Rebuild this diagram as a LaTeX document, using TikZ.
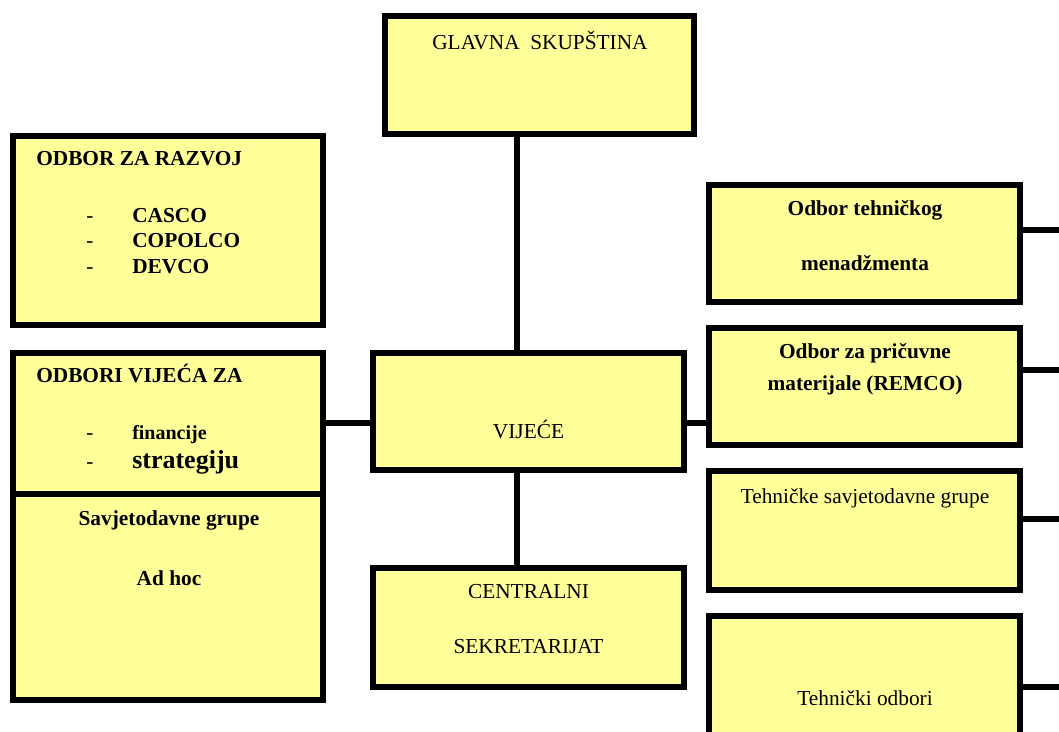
\documentclass[tikz,border=0pt]{standalone}
\usepackage{fontspec}
\setmainfont{Liberation Serif}
\begin{document}
\begin{tikzpicture}[x=0.75pt,y=-0.75pt,
  orgbox/.style={draw=black,line width=4.5pt,fill=boxyellow,rectangle,inner sep=0pt},
  link/.style={line width=4.5pt},
  lbl/.style={anchor=base,inner sep=0pt,font=\fontsize{16}{19}\selectfont},
  blbl/.style={lbl,font=\fontsize{16}{19}\selectfont\bfseries}]
\definecolor{boxyellow}{HTML}{FFFF99}
\useasboundingbox (0,0) rectangle (1059,731);
\clip (0,0) rectangle (1059,731);

% boxes (sizes in px of the stroke centre line, 1px = 0.75pt)
\node[orgbox,minimum width=309*0.75,minimum height=118*0.75] (gs) at (539.5,75) {};
\node[orgbox,minimum width=310*0.75,minimum height=189*0.75] (razvoj) at (168,230.5) {};
\node[orgbox,minimum width=310*0.75,minimum height=141*0.75] (odbori) at (168,423.5) {};
\node[orgbox,minimum width=310*0.75,minimum height=206*0.75] (savjet) at (168,597) {};
\node[orgbox,minimum width=311*0.75,minimum height=117*0.75] (vijece) at (528.5,411.5) {};
\node[orgbox,minimum width=311*0.75,minimum height=119*0.75] (centr) at (528.5,627.5) {};
\node[orgbox,minimum width=311*0.75,minimum height=117*0.75] (tmb) at (864.5,243.5) {};
\node[orgbox,minimum width=311*0.75,minimum height=117*0.75] (remco) at (864.5,386.5) {};
\node[orgbox,minimum width=311*0.75,minimum height=119*0.75] (tag) at (864.5,530.5) {};
\node[orgbox,minimum width=311*0.75,minimum height=150*0.75] (tc) at (864.5,691) {};

% trunk line and free ends at the right margin
\coordinate (trunk) at (517,0);
\coordinate (mid) at (0,423);
\coordinate (e1) at (1065,230);
\coordinate (e2) at (1065,370);
\coordinate (e3) at (1065,519);
\coordinate (e4) at (1065,687);

% connectors
\draw[link] (trunk |- gs.south) -- (trunk |- vijece.north);
\draw[link] (trunk |- vijece.south) -- (trunk |- centr.north);
\draw[link] (odbori.east |- mid) -- (vijece.west |- mid);
\draw[link] (vijece.east |- mid) -- (remco.west |- mid);
\draw[link] (tmb.east |- e1) -- (e1);
\draw[link] (remco.east |- e2) -- (e2);
\draw[link] (tag.east |- e3) -- (e3);
\draw[link] (tc.east |- e4) -- (e4);

% labels
\node[lbl] (tgs) at (540,50) {GLAVNA\ \ SKUPŠTINA};

\node[blbl,anchor=base west] (trz) at (36,166) {ODBOR ZA RAZVOJ};
\node[lbl,anchor=base west] (d1) at (86,222) {-};
\node[lbl,anchor=base west] (d2) at (86,247) {-};
\node[lbl,anchor=base west] (d3) at (86,273) {-};
\node[blbl,anchor=base west] (t1) at (132,222) {CASCO};
\node[blbl,anchor=base west] (t2) at (132,247) {COPOLCO};
\node[blbl,anchor=base west] (t3) at (132,273) {DEVCO};

\node[blbl,anchor=base west] (tov) at (36,382) {ODBORI VIJEĆA ZA};
\node[lbl,anchor=base west] (d4) at (86,439) {-};
\node[lbl,anchor=base west] (d5) at (86,468) {-};
\node[blbl,anchor=base west,font=\fontsize{15}{17}\selectfont\bfseries] (t4) at (132,439) {financije};
\node[blbl,anchor=base west,font=\fontsize{19.5}{22}\selectfont\bfseries] (t5) at (132,468) {strategiju};

\node[blbl] (tsg) at (169,525) {Savjetodavne grupe};
\node[blbl] (tah) at (169,585) {Ad hoc};

\node[lbl] (tv) at (528.5,438) {VIJEĆE};
\node[lbl] (tc1) at (528.5,598) {CENTRALNI};
\node[lbl] (tc2) at (528.5,653) {SEKRETARIJAT};

\node[blbl] (tm1) at (865,215) {Odbor tehničkog};
\node[blbl] (tm2) at (865,270) {menadžmenta};
\node[blbl] (tr1) at (865,358) {Odbor za pričuvne};
\node[blbl] (tr2) at (865,390) {materijale (REMCO)};
\node[lbl] (tt) at (865,503) {Tehničke savjetodavne grupe};
\node[lbl] (to) at (865,705) {Tehnički odbori};
\end{tikzpicture}
\end{document}
